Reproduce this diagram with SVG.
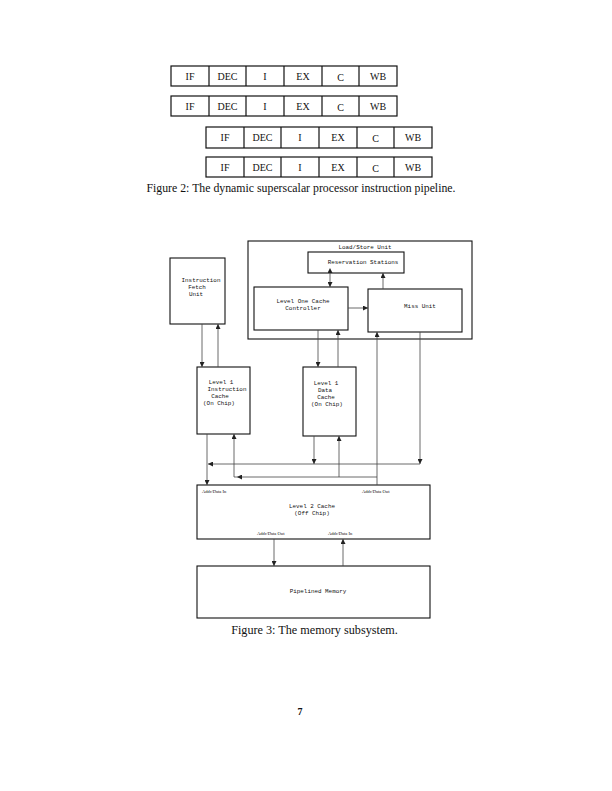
<svg xmlns="http://www.w3.org/2000/svg" width="612" height="791" viewBox="0 0 612 791">
<defs>
<marker id="ah" viewBox="0 0 10 10" refX="10" refY="5" markerWidth="5" markerHeight="5" orient="auto" markerUnits="userSpaceOnUse"><path d="M0,0 L10,5 L0,10 z" fill="#222"/></marker>
<marker id="ahs" viewBox="0 0 10 10" refX="0" refY="5" markerWidth="5" markerHeight="5" orient="auto-start-reverse" markerUnits="userSpaceOnUse"><path d="M0,0 L10,5 L0,10 z" fill="#222"/></marker>
</defs>
<style>
.cell{fill:#fff;stroke:#111;stroke-width:1.2}
.ct{font-family:"Liberation Serif",serif;font-size:10px;text-anchor:middle;fill:#111}
.cap{font-family:"Liberation Serif",serif;text-anchor:middle;fill:#111}
.box{fill:#fff;stroke:#111;stroke-width:1.1}
.mt{font-family:"Liberation Mono",monospace;font-size:5.9px;text-anchor:middle;fill:#111}
.sm{font-family:"Liberation Serif",serif;font-size:4.6px;fill:#111}
.cn{fill:none;stroke:#444;stroke-width:0.8}
</style>
<rect width="612" height="791" fill="#fff"/>

<g id="pipeline">
 <g id="row1">
  <rect class="cell" x="171" y="66" width="226" height="20"/>
  <path class="cell" d="M209,66V86M246,66V86M284,66V86M322,66V86M359,66V86"/>
  <text class="ct" x="190" y="80">IF</text><text class="ct" x="227.5" y="80">DEC</text><text class="ct" x="265" y="80">I</text><text class="ct" x="303" y="80">EX</text><text class="ct" x="340.5" y="81">C</text><text class="ct" x="378" y="80">WB</text>
 </g>
 <g id="row2">
  <rect class="cell" x="171" y="96" width="226" height="20"/>
  <path class="cell" d="M209,96V116M246,96V116M284,96V116M322,96V116M359,96V116"/>
  <text class="ct" x="190" y="110">IF</text><text class="ct" x="227.5" y="110">DEC</text><text class="ct" x="265" y="110">I</text><text class="ct" x="303" y="110">EX</text><text class="ct" x="340.5" y="111">C</text><text class="ct" x="378" y="110">WB</text>
 </g>
 <g id="row3">
  <rect class="cell" x="206" y="127" width="226" height="21"/>
  <path class="cell" d="M244,127V148M281,127V148M319,127V148M357,127V148M394,127V148"/>
  <text class="ct" x="225" y="141">IF</text><text class="ct" x="262.5" y="141">DEC</text><text class="ct" x="300" y="141">I</text><text class="ct" x="338" y="141">EX</text><text class="ct" x="375.5" y="142">C</text><text class="ct" x="413" y="141">WB</text>
 </g>
 <g id="row4">
  <rect class="cell" x="206" y="157" width="226" height="20"/>
  <path class="cell" d="M244,157V177M281,157V177M319,157V177M357,157V177M394,157V177"/>
  <text class="ct" x="225" y="171">IF</text><text class="ct" x="262.5" y="171">DEC</text><text class="ct" x="300" y="171">I</text><text class="ct" x="338" y="171">EX</text><text class="ct" x="375.5" y="172">C</text><text class="ct" x="413" y="171">WB</text>
 </g>
 <text class="cap" x="301" y="192" font-size="11.8">Figure 2:  The dynamic superscalar processor instruction pipeline.</text>
</g>

<g id="lsu">
 <rect class="box" x="248" y="241" width="224" height="98"/>
 <text class="mt" x="365" y="248.5">Load/Store Unit</text>
</g>
<g id="reservation">
 <rect class="box" x="308" y="252" width="96" height="21"/>
 <text class="mt" x="363" y="264">Reservation Stations</text>
</g>
<g id="controller">
 <rect class="box" x="254" y="287" width="94" height="43"/>
 <text class="mt" x="303" y="303">Level One Cache</text>
 <text class="mt" x="303" y="310">Controller</text>
</g>
<g id="missunit">
 <rect class="box" x="368" y="289" width="94" height="43"/>
 <text class="mt" x="420" y="308">Miss Unit</text>
</g>
<g id="ifu">
 <rect class="box" x="170" y="258" width="55" height="66"/>
 <text class="mt" x="201" y="282">Instruction</text>
 <text class="mt" x="197" y="289">Fetch</text>
 <text class="mt" x="196" y="296">Unit</text>
</g>
<g id="l1i">
 <rect class="box" x="197" y="367" width="53" height="67"/>
 <text class="mt" x="221" y="384">Level 1</text>
 <text class="mt" x="227" y="391">Instruction</text>
 <text class="mt" x="220" y="398">Cache</text>
 <text class="mt" x="219" y="405">(On Chip)</text>
</g>
<g id="l1d">
 <rect class="box" x="303" y="367" width="53" height="69"/>
 <text class="mt" x="326" y="385">Level 1</text>
 <text class="mt" x="325" y="392">Data</text>
 <text class="mt" x="326" y="399">Cache</text>
 <text class="mt" x="327" y="406">(On Chip)</text>
</g>
<g id="l2">
 <rect class="box" x="197" y="485" width="233" height="54"/>
 <text class="sm" x="202" y="493">Addr/Data In</text>
 <text class="sm" x="362" y="493">Addr/Data Out</text>
 <text class="mt" x="312" y="508">Level 2 Cache</text>
 <text class="mt" x="312" y="515">(Off Chip)</text>
 <text class="sm" x="257" y="535">Addr/Data Out</text>
 <text class="sm" x="328" y="535">Addr/Data In</text>
</g>
<g id="memory">
 <rect class="box" x="197" y="566" width="233" height="52"/>
 <text class="mt" x="318" y="593">Pipelined Memory</text>
</g>

<g id="connectors">
 <path class="cn" d="M202,324V367" marker-end="url(#ah)"/>
 <path class="cn" d="M218,367V324" marker-end="url(#ah)"/>
 <path class="cn" d="M330,273V287" marker-start="url(#ahs)" marker-end="url(#ah)"/>
 <path class="cn" d="M383,289V273" marker-end="url(#ah)"/>
 <path class="cn" d="M348,308H368" marker-end="url(#ah)"/>
 <path class="cn" d="M318,330V367" marker-end="url(#ah)"/>
 <path class="cn" d="M338,367V330" marker-end="url(#ah)"/>
 <path class="cn" d="M377,485V332" marker-end="url(#ah)"/>
 <path class="cn" d="M420,332V464" marker-end="url(#ah)"/>
 <path class="cn" d="M314,436V464" marker-end="url(#ah)"/>
 <path class="cn" d="M420,464H208" marker-end="url(#ah)"/>
 <path class="cn" d="M207,434V485" marker-end="url(#ah)"/>
 <path class="cn" d="M377,477H237" marker-end="url(#ah)"/>
 <path class="cn" d="M237,477H234V434" marker-end="url(#ah)"/>
 <path class="cn" d="M339,477V436" marker-end="url(#ah)"/>
 <path class="cn" d="M274,539V566" marker-end="url(#ah)"/>
 <path class="cn" d="M343,566V539" marker-end="url(#ah)"/>
</g>

<text class="cap" x="314.5" y="634" font-size="12.2">Figure 3:  The memory subsystem.</text>
<text x="300" y="715" style="font-family:'Liberation Serif',serif;font-size:10px;font-weight:bold;text-anchor:middle;fill:#111">7</text>
</svg>
